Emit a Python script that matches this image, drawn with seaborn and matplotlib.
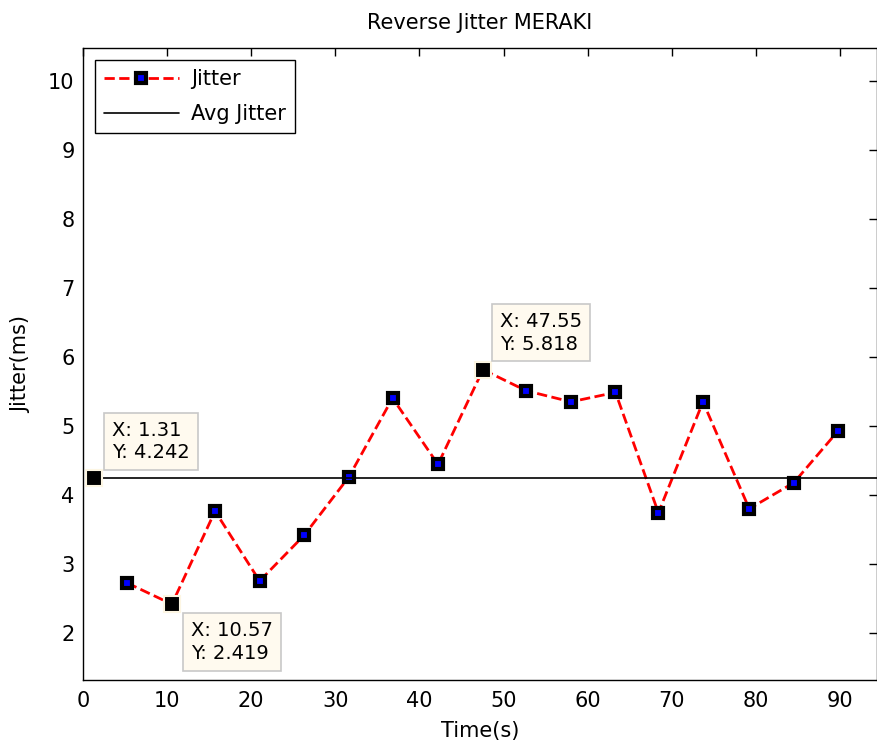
import matplotlib
matplotlib.use("Agg")
import matplotlib.pyplot as plt
import seaborn as sns

# Jitter samples
time_s = [5.25, 10.57, 15.7, 21.0, 26.3, 31.6, 36.8, 42.2, 47.55,
          52.7, 58.0, 63.3, 68.4, 73.7, 79.2, 84.5, 89.7]
jitter_ms = [2.727, 2.419, 3.767, 2.756, 3.419, 4.262, 5.405, 4.446, 5.818,
             5.512, 5.352, 5.488, 3.744, 5.352, 3.802, 4.180, 4.922]

avg_jitter = 4.242
avg_x = [1.31, 95.0]

# data tips shown on the chart
tip_x = [1.31, 10.57, 47.55]
tip_y = [4.242, 2.419, 5.818]

sns.set_style("white")
plt.rcParams['font.family'] = ['DejaVu Sans']
plt.rcParams['text.color'] = 'black'
plt.rcParams['axes.labelcolor'] = 'black'

fig = plt.figure(figsize=(8.78, 7.45), dpi=100)
ax = fig.add_axes([0.0945, 0.0872, 0.9045, 0.8484])

sns.lineplot(x=time_s, y=jitter_ms, ax=ax, sort=False, color='red',
             linestyle='--', linewidth=2, marker='s', markersize=6.5,
             markerfacecolor='blue', markeredgecolor='black',
             markeredgewidth=3, label='Jitter')
sns.lineplot(x=avg_x, y=[avg_jitter, avg_jitter], ax=ax, color='black',
             linewidth=1.2, label='Avg Jitter')

# data tip markers
ax.plot(tip_x, tip_y, linestyle='none', marker='s', markersize=11,
        markerfacecolor='black', markeredgecolor='#fdf6e3',
        markeredgewidth=1.5, zorder=5)

offsets = [(18, 16), (19, -17), (17, 16)]
valigns = ['bottom', 'top', 'bottom']
for tx, ty, off, va in zip(tip_x, tip_y, offsets, valigns):
    ax.annotate(f"X: {tx}\nY: {ty}", xy=(tx, ty), xytext=off,
                textcoords='offset pixels', ha='left', va=va, fontsize=14,
                linespacing=1.25, zorder=6, color='black',
                bbox=dict(boxstyle='square,pad=0.4', facecolor='#fffaef',
                          edgecolor='#c8c8c8', linewidth=1.2))

ax.set_xlim(0, 94.4)
ax.set_ylim(1.32, 10.48)
ax.set_xticks(range(0, 100, 10))
ax.set_yticks(range(2, 11))

for s in ax.spines.values():
    s.set_visible(True)
    s.set_color('black')
    s.set_linewidth(1)

ax.tick_params(direction='in', length=6, width=1, top=True, right=True,
               labelsize=15, colors='black')
ax.tick_params(axis='x', pad=8)
ax.tick_params(axis='y', pad=6)

ax.set_title('Reverse Jitter MERAKI', fontsize=15, pad=14, color='black')
ax.set_xlabel('Time(s)', fontsize=15, labelpad=7)
ax.set_ylabel('Jitter(ms)', fontsize=15, labelpad=12)

leg = ax.legend(loc='upper left', fontsize=15, fancybox=False,
                edgecolor='black', framealpha=1, borderaxespad=0.6,
                handlelength=3.6, handletextpad=0.6, labelspacing=0.75)
leg.get_frame().set_linewidth(1)
for t in leg.get_texts():
    t.set_color('black')

fig.savefig('out.png', dpi=100)
